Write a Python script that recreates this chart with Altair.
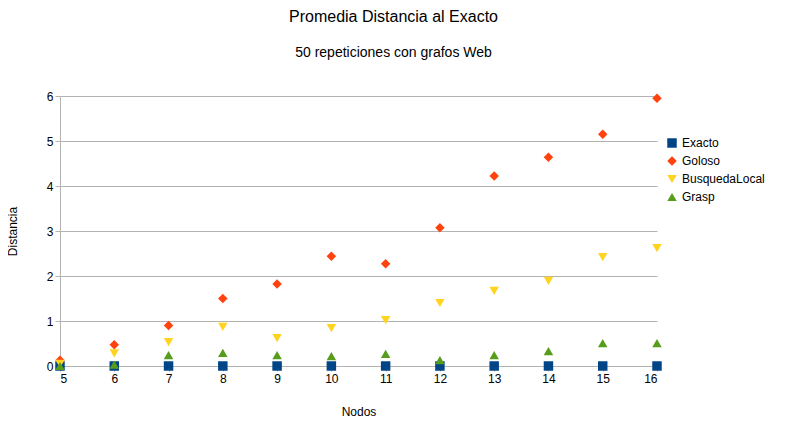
import pandas as pd
import altair as alt

nodos = list(range(5, 17))
exacto = [0] * 12
goloso = [0.13, 0.47, 0.9, 1.5, 1.82, 2.44, 2.27, 3.07, 4.22, 4.64, 5.15, 5.95]
busqueda = [0.05, 0.28, 0.53, 0.87, 0.62, 0.84, 1.02, 1.4, 1.67, 1.89, 2.42, 2.62]
grasp = [0.0, 0.03, 0.24, 0.29, 0.24, 0.22, 0.27, 0.13, 0.24, 0.33, 0.51, 0.51]

series = ["Exacto", "Goloso", "BusquedaLocal", "Grasp"]
colors = ["#004586", "#ff420e", "#ffd320", "#579d1c"]
shapes = ["square", "diamond", "triangle-down", "triangle-up"]

rows = []
for name, vals in zip(series, [exacto, goloso, busqueda, grasp]):
    for n, v in zip(nodos, vals):
        rows.append({"Nodos": n, "Distancia": v, "serie": name})
df = pd.DataFrame(rows)

font = "Liberation Sans"
chart = alt.Chart(df).mark_point(filled=True, size=90, opacity=1).encode(
    x=alt.X("Nodos:Q").scale(domain=[5, 16], nice=False)
        .axis(values=nodos, grid=False, title="Nodos", titlePadding=22, titleFontWeight="normal"),
    y=alt.Y("Distancia:Q").scale(domain=[0, 6])
        .axis(tickCount=7, title="Distancia", titlePadding=27, titleFontWeight="normal"),
    color=alt.Color("serie:N").scale(domain=series, range=colors)
        .legend(title=None, orient="none", legendX=606, legendY=41, symbolSize=90,
                labelFontSize=12, rowPadding=6),
    shape=alt.Shape("serie:N").scale(domain=series, range=shapes),
).properties(
    width=597, height=270,
    title=alt.Title("Promedia Distancia al Exacto", subtitle="50 repeticiones con grafos Web",
                    fontSize=16, subtitleFontSize=14, fontWeight="normal", font=font,
                    subtitleFont=font, subtitleColor="black", offset=30, subtitlePadding=21, dx=35),
    autosize=alt.AutoSizeParams(type="none"),
    padding={"left": 52, "top": 88, "right": 123, "bottom": 50},
).configure_axis(
    labelFont=font, titleFont=font, labelFontSize=12, titleFontSize=12,
    labelColor="black", titleColor="black", gridColor="#b3b3b3", domainColor="#b3b3b3",
    tickColor="#b3b3b3",
).configure_legend(labelFont=font).configure_view(stroke=None)

chart.save("out.html", embed_options={"renderer": "svg", "actions": False})
